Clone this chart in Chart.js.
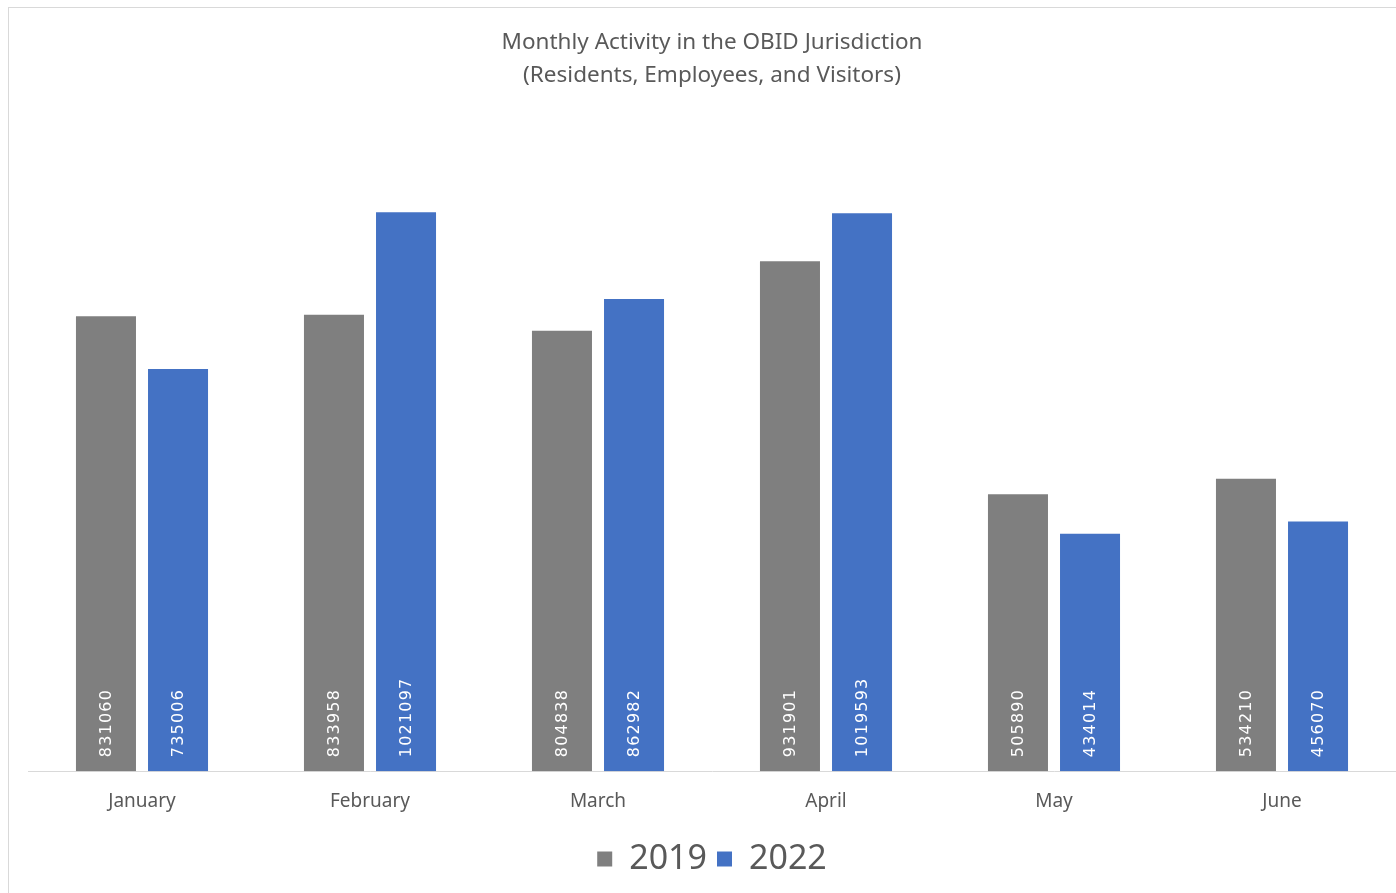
<!DOCTYPE html>
<html>
<head>
<meta charset="utf-8">
<script src="https://cdn.jsdelivr.net/npm/chart.js@4"></script>
<style>
  html, body { margin: 0; padding: 0; background: #fff; overflow: hidden; }
  #frame { position: absolute; left: 8px; top: 7px; width: 1400px; height: 900px; border: 1px solid #d9d9d9; }
  #wrap { position: absolute; left: 0; top: 0; width: 1396px; height: 893px; }
</style>
</head>
<body>
<div id="frame"></div>
<div id="wrap"><canvas id="chart"></canvas></div>
<script>
/* ─── Data ───────────────────────────────────────────────── */
const MONTHS      = ['January', 'February', 'March', 'April', 'May', 'June'];
const VALUES_2019 = [831060, 833958, 804838, 931901, 505890, 534210];
const VALUES_2022 = [735006, 1021097, 862982, 1019593, 434014, 456070];
const TEXT_COLOR  = '#595959';

/* ─── Vertical value labels inside bars ──────────────────── */
const barLabels = {
  id: 'barLabels',
  afterDatasetsDraw(chart) {
    const { ctx } = chart;
    const base = chart.scales.y.getPixelForValue(0);
    ctx.save();
    ctx.fillStyle = '#ffffff';
    ctx.font = '16px "DejaVu Sans"';
    ctx.letterSpacing = '1.2px';
    ctx.textAlign = 'left';
    ctx.textBaseline = 'middle';
    chart.data.datasets.forEach((ds, i) => {
      chart.getDatasetMeta(i).data.forEach((bar, j) => {
        ctx.save();
        ctx.translate(bar.x, base - 14);
        ctx.rotate(-Math.PI / 2);
        ctx.fillText(String(ds.data[j]), 0, 1);
        ctx.restore();
      });
    });
    ctx.restore();
  }
};

new Chart(document.getElementById('chart'), {
  type: 'bar',
  data: {
    labels: MONTHS,
    datasets: [
      { label: '2019', data: VALUES_2019, backgroundColor: '#7f7f7f' },
      { label: '2022', data: VALUES_2022, backgroundColor: '#4472c4' }
    ]
  },
  options: {
    responsive: true,
    maintainAspectRatio: false,
    animation: false,
    categoryPercentage: 0.632,
    barPercentage: 0.833,
    layout: { padding: { left: 28, right: 0, top: 26, bottom: 7 } },
    plugins: {
      title: {
        display: true,
        text: ['Monthly Activity in the OBID Jurisdiction', '(Residents, Employees, and Visitors)'],
        color: TEXT_COLOR,
        font: { family: '"Noto Sans"', size: 22.5, weight: 'normal', lineHeight: 1.47 },
        padding: { top: 0, bottom: 77 }
      },
      legend: {
        position: 'bottom',
        labels: {
          color: TEXT_COLOR,
          font: { family: '"Noto Sans"', size: 34 },
          boxWidth: 15,
          boxHeight: 15,
          padding: 10
        }
      },
      tooltip: { enabled: false }
    },
    scales: {
      x: {
        grid: { display: false, drawTicks: false },
        border: { color: '#d9d9d9', width: 1 },
        ticks: { color: TEXT_COLOR, font: { family: '"Noto Sans"', size: 19, lineHeight: 0.884 }, padding: 22 }
      },
      y: {
        display: false,
        min: 0,
        max: 1100000
      }
    }
  },
  plugins: [barLabels]
});
</script>
</body>
</html>
